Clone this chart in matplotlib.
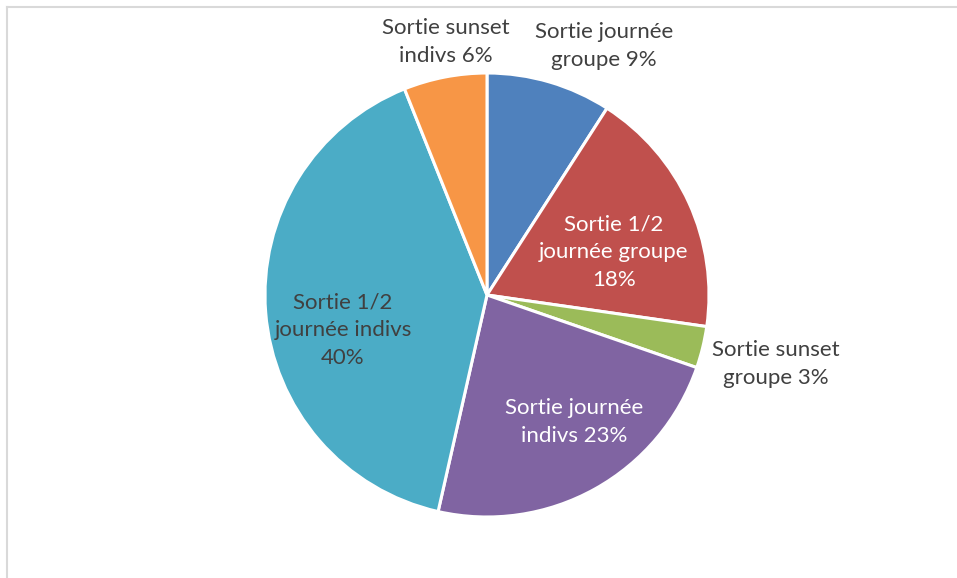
import matplotlib
matplotlib.use("Agg")
import matplotlib.pyplot as plt
from matplotlib.lines import Line2D

categories = ["Sortie journée groupe", "Sortie 1/2 journée groupe", "Sortie sunset groupe",
              "Sortie journée indivs", "Sortie 1/2 journée indivs", "Sortie sunset indivs"]
values = [9, 18, 3, 23, 40, 6]
label_texts = ["Sortie journée\ngroupe 9%", "Sortie 1/2\njournée groupe\n18%", "Sortie sunset\ngroupe 3%",
               "Sortie journée\nindivs 23%", "Sortie 1/2\njournée indivs\n40%", "Sortie sunset\nindivs 6%"]
colors = ["#4F81BD", "#C0504D", "#9BBB59", "#8064A2", "#4BACC6", "#F79646"]
label_colors = ["#404040", "#FFFFFF", "#404040", "#FFFFFF", "#404040", "#404040"]
label_pos = [(604, 46), (614, 252), (776, 364), (574, 422), (343, 330), (446, 42)]

W, H = 957, 578
fig = plt.figure(figsize=(W / 100, H / 100), dpi=100)
ax = fig.add_axes([0, 0, 1, 1])

ax.pie(values, colors=colors, startangle=90, counterclock=False,
       center=(487, H - 295), radius=222, frame=True,
       wedgeprops=dict(edgecolor="white", linewidth=2.2))
ax.set_xlim(0, W)
ax.set_ylim(0, H)
ax.set_aspect("auto")
ax.axis("off")

for txt, col, (x, y) in zip(label_texts, label_colors, label_pos):
    ax.text(x, H - y, txt, color=col, ha="center", va="center",
            fontsize=16, family=["Lato", "DejaVu Sans"], linespacing=1.48)

# chart border (top and left visible)
fig.add_artist(Line2D([6.5 / W, 1], [1 - 6.5 / H, 1 - 6.5 / H], transform=fig.transFigure,
                      color="#D9D9D9", linewidth=1.5))
fig.add_artist(Line2D([6.5 / W, 6.5 / W], [0, 1 - 6.5 / H], transform=fig.transFigure,
                      color="#D9D9D9", linewidth=1.5))

fig.savefig("out.png", dpi=100, facecolor="white")
